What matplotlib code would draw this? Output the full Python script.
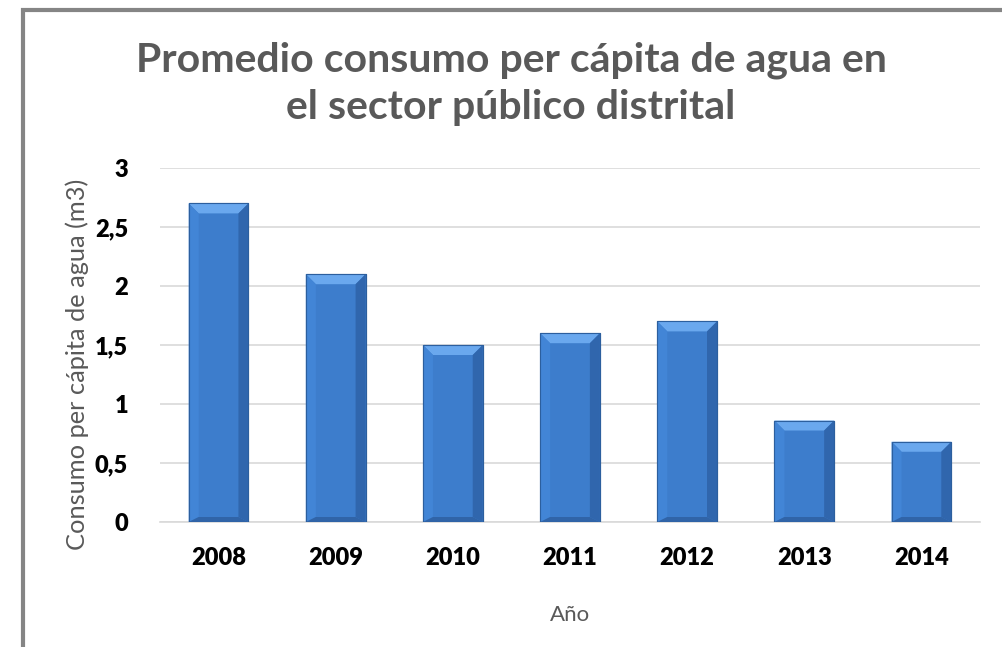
import numpy as np
import matplotlib
matplotlib.use("Agg")
import matplotlib.pyplot as plt
from matplotlib.patches import Rectangle, Polygon

years = ["2008", "2009", "2010", "2011", "2012", "2013", "2014"]
consumo = [2.7, 2.1, 1.5, 1.6, 1.7, 0.86, 0.68]
yticks = [0, 0.5, 1, 1.5, 2, 2.5, 3]
ytick_labels = ["0", "0,5", "1", "1,5", "2", "2,5", "3"]

plt.rcParams['font.family'] = ['Lato', 'DejaVu Sans']

fig = plt.figure(figsize=(10.02, 6.47), dpi=100)
ax = fig.add_axes([160/1002, 1-522/647, 820/1002, 354/647])

x = np.arange(len(years))
bw = 0.51
bars = ax.bar(x, consumo, width=bw, color="#3d7dcc", edgecolor="#2c5f9e",
              linewidth=0.8, zorder=3)

ax.set_xlim(-0.5, len(years) - 0.5)
ax.set_ylim(0, 3)

# bevel effect on each bar (sizes derived from bar geometry)
px_x = len(years) / 820.0
px_y = 3.0 / 354.0
bev = 10
for b in bars:
    x0, w, h = b.get_x(), b.get_width(), b.get_height()
    dx, dy = bev * px_x, bev * px_y
    top = Polygon([(x0, h), (x0 + w, h), (x0 + w - dx, h - dy), (x0 + dx, h - dy)],
                  closed=True, facecolor="#6aa8ee", edgecolor="none", zorder=4)
    left = Polygon([(x0, h), (x0 + dx, h - dy), (x0 + dx, dy * 0.5), (x0, 0)],
                   closed=True, facecolor="#4285d6", edgecolor="none", zorder=4)
    right = Polygon([(x0 + w, h), (x0 + w - dx, h - dy), (x0 + w - dx, dy * 0.5), (x0 + w, 0)],
                    closed=True, facecolor="#3066ad", edgecolor="none", zorder=4)
    bottom = Polygon([(x0, 0), (x0 + w, 0), (x0 + w - dx, dy * 0.5), (x0 + dx, dy * 0.5)],
                     closed=True, facecolor="#3064a8", edgecolor="none", zorder=4)
    for p in (top, left, right, bottom):
        ax.add_patch(p)
    ax.add_patch(Rectangle((x0, 0), w, h, facecolor="none", edgecolor="#2c5f9e",
                           linewidth=0.8, zorder=5))

ax.set_yticks(yticks)
ax.set_yticklabels(ytick_labels, fontsize=17, fontweight="heavy")
ax.set_xticks(x)
ax.set_xticklabels(years, fontsize=17, fontweight="heavy")
ax.tick_params(axis="x", length=0, pad=18)
ax.tick_params(axis="y", length=0, pad=23)
ax.grid(axis="y", color="#d9d9d9", linewidth=1.2, zorder=0)
for s in ["top", "right", "left"]:
    ax.spines[s].set_visible(False)
ax.spines["bottom"].set_color("#d9d9d9")
ax.spines["bottom"].set_linewidth(1.2)

ax.set_ylabel("Consumo per cápita de agua (m3)", fontsize=18.3, color="#595959")
ax.yaxis.set_label_coords(-0.086, 0.445)
ax.set_xlabel("Año", fontsize=16, color="#595959", labelpad=26)

fig.text(511/1002, 1-84/647, "Promedio consumo per cápita de agua en\nel sector público distrital",
         ha="center", va="center", fontsize=29.5, fontweight="bold", color="#595959",
         linespacing=1.35)

fig.patches.append(Rectangle((23/1002, -0.1), 1.2, 1 - 10/647 + 0.1, transform=fig.transFigure,
                             facecolor="none", edgecolor="#858585", linewidth=3, zorder=10))

fig.savefig("out.png", dpi=100)
